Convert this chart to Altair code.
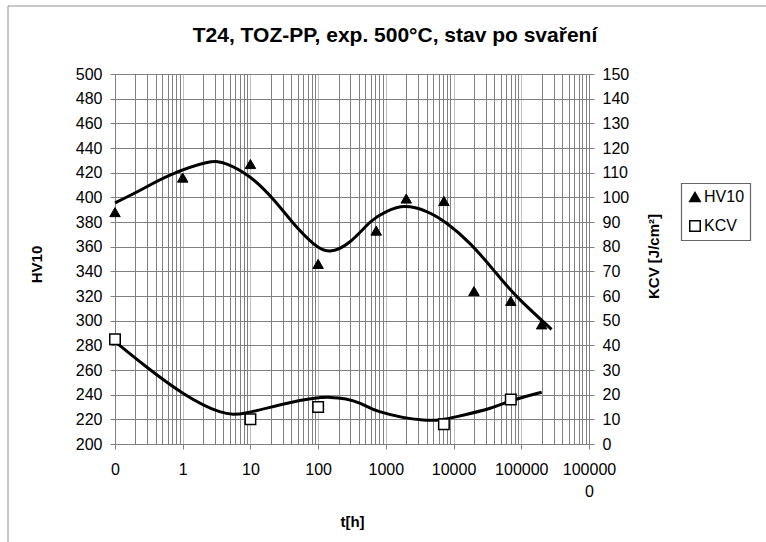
import altair as alt
import pandas as pd

# measured points
hv_t = [0.1, 1, 10, 100, 720, 2000, 7200, 20000, 70000, 200000]
hv_v = [388, 416, 427, 346, 373, 399, 397, 324, 316, 297]
kcv_t = [0.1, 10, 100, 7200, 70000]
kcv_v = [42.5, 10, 15, 8, 18]

# trend curves
hv_trend_t = [0.1, 0.26, 0.65, 2.2, 4.5, 9.8, 22, 43, 85, 150, 295, 590, 1020,
              1900, 4000, 7900, 17500, 39000, 86000, 280000]
hv_trend_v = [395.5, 407, 418, 428, 427, 416.5, 398, 379, 362.5, 356.5, 364, 380,
              388.5, 392.5, 388.5, 379, 362.5, 341, 319.5, 293]
kcv_trend_t = [0.1, 0.29, 1.02, 3.5, 8.9, 35, 150, 420, 810, 3550, 11200, 34700,
               76000, 200000]
kcv_trend_v = [41.5, 31.3, 20.5, 13.1, 12.7, 16.5, 18.9, 16.5, 13.1, 9.7, 11.1,
               14.5, 17.8, 21]

title_text = "T24, TOZ-PP, exp. 500°C, stav po svaření"
series_names = ["HV10", "KCV"]
hv_ticks = list(range(200, 501, 20))
kcv_ticks = list(range(0, 151, 10))
x_ticks = [round(m * 10 ** k, 6) for k in range(-1, 6) for m in range(1, 10)] + [1000000]

FONT = "Liberation Sans"
GRAY = "#808080"
LBL = 16

hv_pts = pd.DataFrame({"t": hv_t, "v": hv_v, "series": "HV10"})
kcv_pts = pd.DataFrame({"t": kcv_t, "v": kcv_v, "series": "KCV"})
hv_tr = pd.DataFrame({"t": hv_trend_t, "v": hv_trend_v})
kcv_tr = pd.DataFrame({"t": kcv_trend_t, "v": kcv_trend_v})

is_dec = "abs(log(datum.value)/LN10 - round(log(datum.value)/LN10)) < 0.001"

x_axis = alt.Axis(
    values=x_ticks,
    labelExpr=("!(" + is_dec + ") ? '' : (datum.value < 0.5 ? '0' : "
               "(datum.value > 500000 ? ['100000', '0'] : format(datum.value, 'd')))"),
    labelOverlap=False, labelFlush=False, labelFont=FONT, labelFontSize=LBL,
    labelColor="black", labelPadding=12, labelLineHeight=22,
    tickSize=5, tickColor={"condition": {"test": is_dec, "value": GRAY}, "value": "transparent"},
    domainColor=GRAY, grid=True,
    gridColor={"condition": {"test": is_dec, "value": "#c0c0c0"}, "value": GRAY},
    title="t[h]", titleFont=FONT, titleFontSize=15, titleFontWeight="bold",
    titleX=237, titleY=77, titleBaseline="middle", titleAlign="center", titleColor="black",
)
x_scale = alt.Scale(type="log", domain=[0.1, 1000000])
x_enc = alt.X("t:Q", scale=x_scale, axis=x_axis)

hv_axis = alt.Axis(
    values=hv_ticks, grid=True, gridColor=GRAY, labelFont=FONT, labelFontSize=LBL,
    labelColor="black", labelPadding=8, tickSize=5, tickColor=GRAY, domainColor=GRAY,
    title="HV10", titleFont=FONT, titleFontSize=15, titleFontWeight="bold", titleColor="black",
    titleAngle=270, titleX=-79, titleY=190, titleAlign="center", titleBaseline="middle",
)
hv_scale = alt.Scale(domain=[200, 500], nice=False, zero=False)
kcv_axis = alt.Axis(
    orient="right", values=kcv_ticks, grid=False, labelFont=FONT, labelFontSize=LBL,
    labelColor="black", labelPadding=8, tickSize=5, tickColor=GRAY, domainColor=GRAY,
    title="KCV [J/cm²]", titleFont=FONT, titleFontSize=15, titleFontWeight="bold",
    titleColor="black", titleAngle=270, titleX=64, titleY=182, titleAlign="center",
    titleBaseline="middle",
)
kcv_scale = alt.Scale(domain=[0, 150], nice=False)

legend = alt.Legend(orient="none", legendX=566, legendY=109, title=None)
shape_enc = alt.Shape("series:N", scale=alt.Scale(domain=series_names,
                      range=["triangle-up", "square"]), legend=legend)
fill_enc = alt.Fill("series:N", scale=alt.Scale(domain=series_names,
                    range=["black", "white"]), legend=legend)
stroke_enc = alt.Stroke("series:N", scale=alt.Scale(domain=series_names,
                        range=["black", "black"]), legend=legend)

hv_line = alt.Chart(hv_tr).mark_line(color="black", strokeWidth=3, interpolate="natural").encode(
    x=x_enc, y=alt.Y("v:Q", scale=hv_scale, axis=hv_axis))
hv_mark = alt.Chart(hv_pts).mark_point(filled=True, size=110, strokeWidth=1,
                                       opacity=1).encode(
    x=x_enc, y=alt.Y("v:Q", scale=hv_scale, axis=hv_axis), shape=shape_enc, fill=fill_enc,
    stroke=stroke_enc)
kcv_line = alt.Chart(kcv_tr).mark_line(color="black", strokeWidth=3, interpolate="natural").encode(
    x=x_enc, y=alt.Y("v:Q", scale=kcv_scale, axis=kcv_axis))
kcv_mark = alt.Chart(kcv_pts).mark_point(filled=True, size=110, strokeWidth=1.5,
                                         opacity=1).encode(
    x=x_enc, y=alt.Y("v:Q", scale=kcv_scale, axis=kcv_axis), shape=shape_enc, fill=fill_enc,
    stroke=stroke_enc)

border = alt.Chart(alt.Data(values=[{"a": 1}])).mark_rect(
    fillOpacity=0, stroke="#909090", strokeWidth=1).encode(
    x=alt.value(-107), x2=alt.value(800), y=alt.value(-68), y2=alt.value(600))
legend_box = alt.Chart(alt.Data(values=[{"b": 1}])).mark_rect(
    fill="#fefefe", fillOpacity=0, stroke="#666666", strokeWidth=1.2, strokeOpacity=1).encode(
    x=alt.value(566.5), x2=alt.value(635.5), y=alt.value(109.5), y2=alt.value(166.5))

chart = alt.layer(
    border,
    alt.layer(hv_line, hv_mark),
    alt.layer(kcv_line, kcv_mark),
    legend_box,
).resolve_scale(y="independent").properties(
    width=474, height=370,
    autosize=alt.AutoSizeParams(type="none"),
    padding={"left": 115, "top": 74, "right": 177, "bottom": 98},
    title=alt.TitleParams(title_text, font=FONT, fontSize=21, fontWeight="bold",
                          anchor="middle", frame="group", baseline="alphabetic",
                          offset=0, dy=57, dx=43, color="black"),
).configure_view(stroke=None).configure(background="white").configure_legend(
    padding=6, labelFont=FONT, labelFontSize=LBL, labelColor="black", symbolSize=110,
    symbolStrokeWidth=1.5, rowPadding=12, labelOffset=1,
)

chart.save("out.html", embed_options={"renderer": "svg", "actions": False})
